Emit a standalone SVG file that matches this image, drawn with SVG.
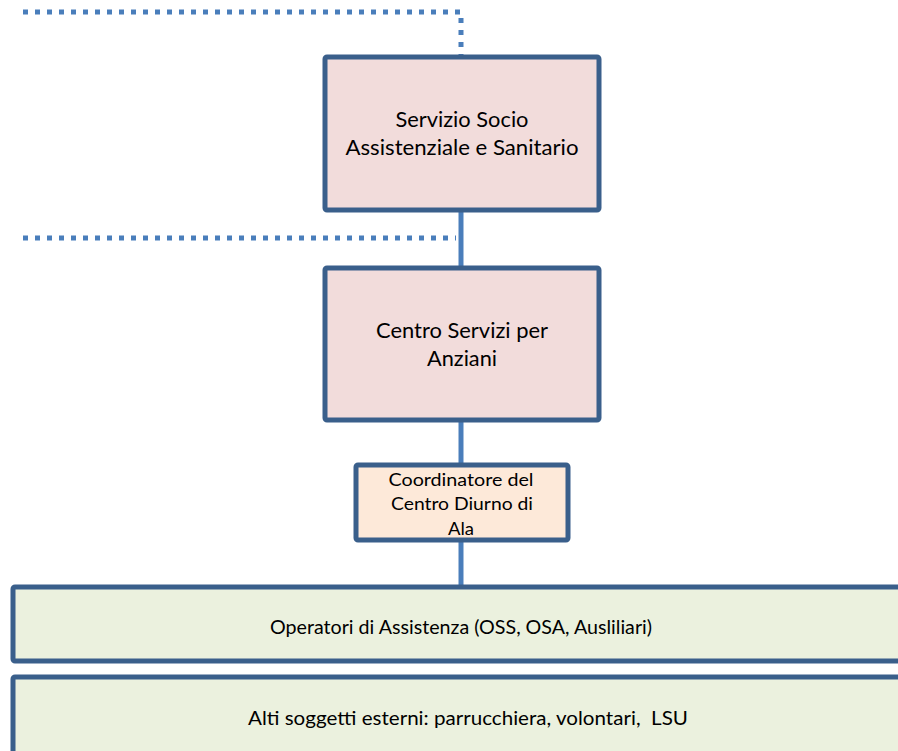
<svg xmlns="http://www.w3.org/2000/svg" width="898" height="751" viewBox="0 0 898 751">
<style>
.box{stroke:#3A5F8B;stroke-width:5;}
.c{fill:none;stroke:#4A7EBB;stroke-width:5;}
.d{fill:none;stroke:#4A7EBB;stroke-width:5;stroke-dasharray:5 7;}
text{font-family:"Lato","Open Sans","Liberation Sans",sans-serif;fill:#000;text-anchor:middle;}
.t1{font-size:20.5px;}
.t3{font-size:18px;}
.t2{font-size:18.5px;}
</style>
<rect width="898" height="751" fill="#fff"/>
<g id="connectors">
<path class="d" d="M23 12 H461 V57"/>
<path class="d" d="M23 238 H456"/>
<path class="c" d="M461 210 V268"/>
<path class="c" d="M461 420 V465"/>
<path class="c" d="M461 540 V588"/>
</g>
<g id="servizio">
<rect class="box" x="325" y="57" width="274" height="153" rx="2" fill="#F2DCDB"/>
<text class="t1" x="462" y="127" textLength="133" lengthAdjust="spacingAndGlyphs">Servizio Socio</text>
<text class="t1" x="462" y="155" textLength="233" lengthAdjust="spacingAndGlyphs">Assistenziale e Sanitario</text>
</g>
<g id="centro">
<rect class="box" x="325" y="268" width="274" height="152" rx="2" fill="#F2DCDB"/>
<text class="t1" x="462" y="338" textLength="172" lengthAdjust="spacingAndGlyphs">Centro Servizi per</text>
<text class="t1" x="462" y="366" textLength="70" lengthAdjust="spacingAndGlyphs">Anziani</text>
</g>
<g id="coordinatore">
<rect class="box" x="356" y="465" width="212" height="75" rx="2" fill="#FDE9D9"/>
<text class="t3" x="461" y="486" textLength="145" lengthAdjust="spacingAndGlyphs">Coordinatore del</text>
<text class="t3" x="462" y="510" textLength="142" lengthAdjust="spacingAndGlyphs">Centro Diurno di</text>
<text class="t3" x="461" y="535" textLength="26" lengthAdjust="spacingAndGlyphs">Ala</text>
</g>
<g id="operatori">
<rect class="box" x="13" y="587" width="895" height="74" rx="2" fill="#EBF1DE"/>
<text class="t2" x="461" y="634" textLength="382" lengthAdjust="spacingAndGlyphs">Operatori di Assistenza (OSS, OSA, Ausliliari)</text>
</g>
<g id="altri">
<rect class="box" x="13" y="677" width="895" height="84" rx="2" fill="#EBF1DE"/>
<text class="t2" x="468" y="725" textLength="440" lengthAdjust="spacingAndGlyphs" xml:space="preserve">Alti soggetti esterni: parrucchiera, volontari,  LSU</text>
</g>
</svg>
